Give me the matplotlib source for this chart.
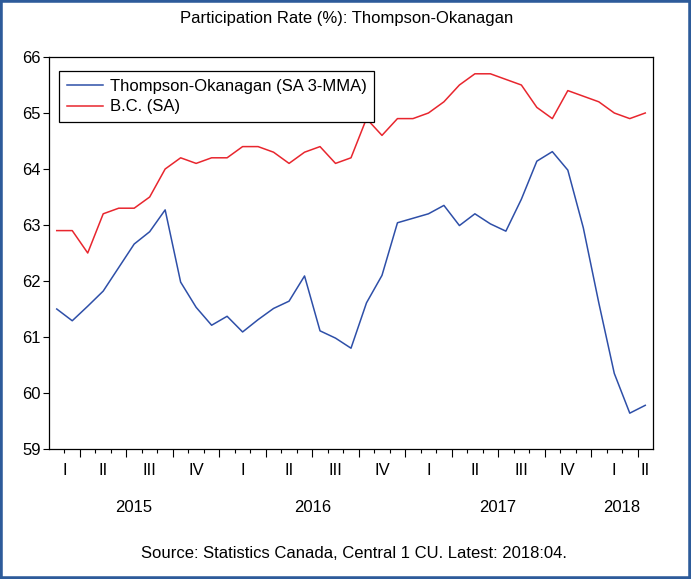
import numpy as np
import pandas as pd
import matplotlib
matplotlib.use("Agg")
import matplotlib.pyplot as plt
from matplotlib.patches import Rectangle

plt.rcParams['font.family'] = ['Liberation Sans', 'DejaVu Sans']

# monthly data, Feb 2015 .. Apr 2018
months = pd.period_range("2015-02", "2018-04", freq="M")

thompson = [61.50, 61.29, 61.55, 61.82, 62.24, 62.66, 62.88, 63.27, 61.98, 61.53,
            61.21, 61.37, 61.09, 61.31, 61.51, 61.64, 62.09, 61.11, 60.98, 60.80,
            61.61, 62.10, 63.04, 63.12, 63.20, 63.35, 62.99, 63.20, 63.02, 62.89,
            63.46, 64.14, 64.31, 63.98, 62.95, 61.61, 60.35, 59.64, 59.78]
bc = [62.9, 62.9, 62.5, 63.2, 63.3, 63.3, 63.5, 64.0, 64.2, 64.1,
      64.2, 64.2, 64.4, 64.4, 64.3, 64.1, 64.3, 64.4, 64.1, 64.2,
      64.9, 64.6, 64.9, 64.9, 65.0, 65.2, 65.5, 65.7, 65.7, 65.6,
      65.5, 65.1, 64.9, 65.4, 65.3, 65.2, 65.0, 64.9, 65.0]

ROMAN = ["I", "II", "III", "IV"]

fig = plt.figure(figsize=(6.91, 5.79), dpi=100)
ax = fig.add_axes([49 / 691, 1 - 449 / 579, 604 / 691, 392 / 579])

x = np.arange(len(months))
ax.plot(x, thompson, color="#2E4FA8", lw=1.1, label="Thompson-Okanagan (SA 3-MMA)")
ax.plot(x, bc, color="#E8262E", lw=1.1, label="B.C. (SA)")

ax.set_xlim(-0.5, len(months) - 0.5)
ax.set_ylim(59, 66)
ax.set_yticks(range(59, 67))
ax.tick_params(axis="y", direction="out", length=4, width=0.8, labelsize=12, pad=2)

# month ticks between observations, longer ones at quarter starts
q_start = [i for i in range(1, len(months)) if months[i].month in (1, 4, 7, 10)]
minor = [i - 0.5 for i in range(1, len(months)) if i not in q_start]
ax.set_xticks([i - 0.5 for i in q_start])
ax.set_xticks(minor, minor=True)
ax.tick_params(axis="x", which="major", direction="out", length=6, width=0.8, labelbottom=False)
ax.tick_params(axis="x", which="minor", direction="out", length=3, width=0.8)

for s in ax.spines.values():
    s.set_linewidth(0.9)

# quarter and year labels
tr = ax.get_xaxis_transform()
qb = [-0.5] + [i - 0.5 for i in q_start] + [len(months) - 0.5]
starts = [0] + q_start
for k in range(len(starts)):
    q = (months[starts[k]].month - 1) // 3
    ax.text((qb[k] + qb[k + 1]) / 2, -0.056, ROMAN[q], transform=tr,
            ha="center", va="center", fontsize=12)

y_start = [i for i in range(1, len(months)) if months[i].month == 1]
yb = [-0.5] + [i - 0.5 for i in y_start] + [len(months) - 0.5]
ystarts = [0] + y_start
for k in range(len(ystarts)):
    ax.text((yb[k] + yb[k + 1]) / 2, -0.150, str(months[ystarts[k]].year), transform=tr,
            ha="center", va="center", fontsize=12)

leg = ax.legend(loc="upper left", bbox_to_anchor=(0.0166, 0.964), borderaxespad=0,
                fontsize=12, fancybox=False, framealpha=1, edgecolor="black",
                handlelength=2.2, handletextpad=0.4, borderpad=0.45, labelspacing=0.35)
leg.get_frame().set_linewidth(0.9)

fig.text(0.502, 1 - 18 / 579, "Participation Rate (%): Thompson-Okanagan",
         ha="center", va="center", fontsize=12)
fig.text(0.512, 1 - 553 / 579, "Source: Statistics Canada, Central 1 CU. Latest: 2018:04.",
         ha="center", va="center", fontsize=12)

fig.patches.append(Rectangle((0, 0), 1, 1, transform=fig.transFigure, fill=False,
                             lw=4, ec="#2D5B9A"))

fig.savefig("out.png", dpi=100)
